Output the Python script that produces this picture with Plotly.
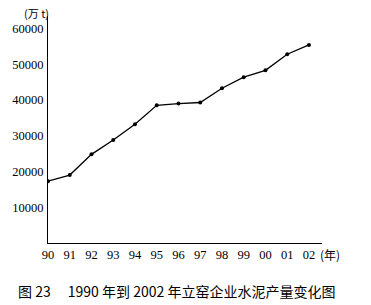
import plotly.graph_objects as go

years = list(range(13))
year_labels = ["90", "91", "92", "93", "94", "95", "96", "97", "98", "99", "00", "01", "02"]
output = [17300, 19000, 24800, 28800, 33200, 38500, 39000, 39300, 43300, 46400, 48300, 52800, 55400]
y_ticks = [10000, 20000, 30000, 40000, 50000, 60000]
y_labels = ["10000", "20000", "30000", "40000", "50000", "60000"]

serif = "Liberation Serif, Times New Roman, serif"

fig = go.Figure()
fig.add_trace(go.Scatter(
    x=years, y=output, mode="lines+markers",
    line=dict(color="black", width=1.3),
    marker=dict(color="black", size=4),
    showlegend=False,
))

fig.update_layout(
    width=371, height=305,
    margin=dict(l=45, r=49, t=16, b=62),
    paper_bgcolor="white", plot_bgcolor="white",
    xaxis=dict(
        range=[0, 12.6], tickvals=years, ticktext=year_labels,
        showgrid=False, zeroline=False, showline=True, linecolor="black", linewidth=1,
        ticks="", tickfont=dict(family=serif, size=12.5, color="black"),
        ticklabelstandoff=0,
    ),
    yaxis=dict(
        range=[0, 63500], tickvals=y_ticks, ticktext=y_labels,
        showgrid=False, zeroline=False, showline=True, linecolor="black", linewidth=1,
        ticks="", tickfont=dict(family=serif, size=12.5, color="black"),
        ticklabelstandoff=1,
    ),
    annotations=[
        dict(text="(万 t)", xref="paper", yref="paper", x=0, y=1.0, xanchor="right", yanchor="bottom",
             showarrow=False, font=dict(family="Noto Sans CJK SC", size=11, color="black"),
             xshift=3, yshift=-7),
        dict(text="(年)", xref="paper", yref="paper", x=1.0, y=0, xanchor="left", yanchor="top",
             showarrow=False, font=dict(family="Noto Sans CJK SC", size=12, color="black"), yshift=-1, xshift=-4),
        dict(text="图 23\u2003 1990 年到 2002 年立窑企业水泥产量变化图", xref="paper", yref="paper",
             x=0.47, y=-0.16, xanchor="center", yanchor="top", showarrow=False,
             font=dict(family="Noto Sans CJK SC", size=14, color="black")),
    ],
)

fig.write_html("out.html")
